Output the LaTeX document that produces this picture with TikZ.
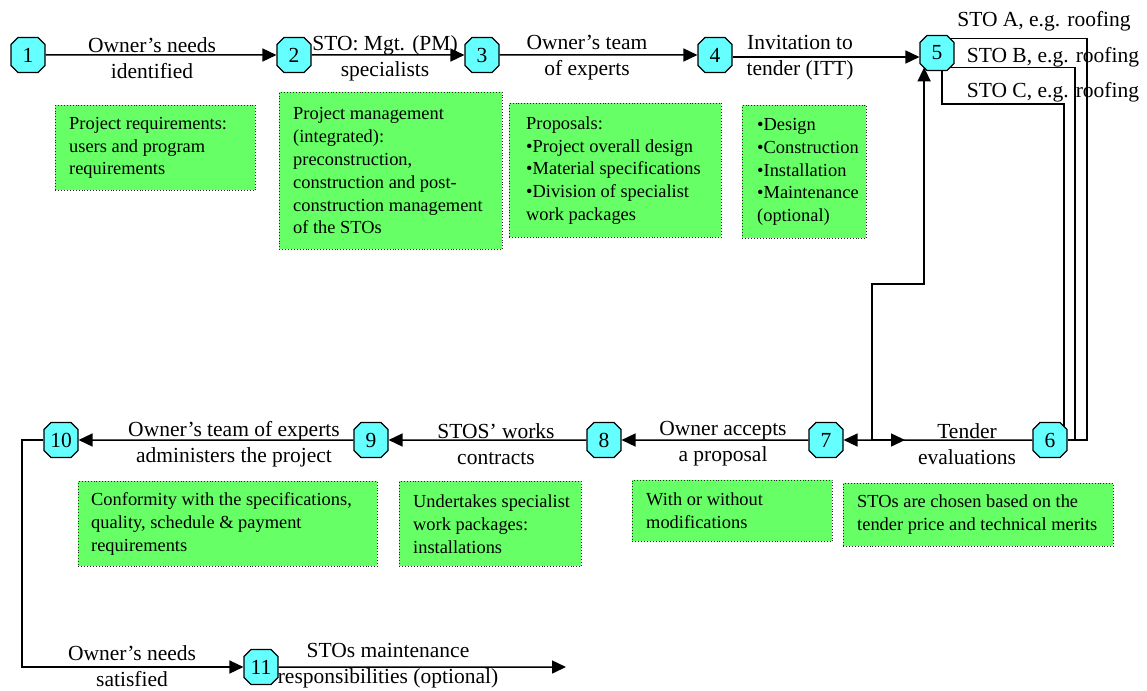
\documentclass[tikz,border=0pt]{standalone}
\usepackage{fontspec}
\setmainfont{Liberation Serif}
\usetikzlibrary{arrows.meta,shapes.misc,backgrounds}
\definecolor{stagecyan}{RGB}{102,255,255}
\definecolor{notegreen}{RGB}{102,255,102}
\tikzset{
  stage/.style={chamfered rectangle, chamfered rectangle xsep=3.5pt, chamfered rectangle ysep=3.5pt,
    draw, line width=1.1pt, fill=stagecyan, minimum width=34pt, minimum height=35pt,
    inner sep=0pt, font=\fontsize{21.5}{26}\selectfont},
  flow/.style={line width=1.5pt, -{Triangle[length=14pt,width=13pt]}},
  plain/.style={line width=1.5pt},
  lbl/.style={align=center, inner sep=0pt, font=\fontsize{21.5}{26}\selectfont},
  notebox/.style={draw=black!85, dotted, line width=0.9pt, fill=notegreen,
    anchor=north west, inner sep=0pt},
  notetext/.style={anchor=west, align=left, inner sep=0pt, font=\fontsize{18.4}{22.8}\selectfont},
}
\begin{document}
\begin{tikzpicture}[x=1pt,y=-1pt]
\useasboundingbox (0,0) rectangle (1147,690);

% numbered stages
\node[stage] (n1) at (28,55) {1};
\node[stage] (n2) at (294,55) {2};
\node[stage] (n3) at (482,55) {3};
\node[stage] (n4) at (715,55) {4};
\node[stage] (n5) at (937,53) {5};
\node[stage] (n6) at (1050,440) {6};
\node[stage] (n7) at (826,440) {7};
\node[stage] (n8) at (604,440) {8};
\node[stage] (n9) at (371,440) {9};
\node[stage] (n10) at (61,440) {10};
\node[stage] (n11) at (261,667) {11};

% connector labels
\node[lbl] (l1) at (152,58) {Owner’s needs\\identified};
\node[lbl] (l2) at (385,58) {STO: Mgt. (PM)\\specialists};
\node[lbl] (l3) at (587,58) {Owner’s team\\of experts};
\node[lbl] (l4) at (800,58) {Invitation to\\tender (ITT)};
\node[lbl] (sa) at (1044,21) {STO A, e.g. roofing};
\node[lbl] (sb) at (1053,57) {STO B, e.g. roofing};
\node[lbl] (sc) at (1053,92) {STO C, e.g. roofing};
\node[lbl] (l6) at (967,444) {Tender\\evaluations};
\node[lbl] (l7) at (723,444) {Owner accepts\\a proposal};
\node[lbl] (l8) at (496,444) {STOS’ works\\contracts};
\node[lbl] (l9) at (234,444) {Owner’s team of experts\\administers the project};
\node[lbl] (l10) at (132,666) {Owner’s needs\\satisfied};
\node[lbl] (l11) at (388,666) {STOs maintenance\\responsibilities (optional)};

% green notes
\node[notebox, minimum width=200pt, minimum height=85pt] (b1) at (55,105) {};
\node[notetext] (t1) at ([xshift=14pt]b1.west) {Project requirements:\\users and program\\requirements};
\node[notebox, minimum width=223pt, minimum height=157pt] (b2) at (279,92) {};
\node[notetext] (t2) at ([xshift=14pt]b2.west) {Project management\\(integrated):\\preconstruction,\\construction and post-\\construction management\\of the STOs};
\node[notebox, minimum width=212pt, minimum height=134pt] (b3) at (509,103) {};
\node[notetext] (t3) at ([xshift=17pt]b3.west) {Proposals:\\•Project overall design\\•Material specifications\\•Division of specialist\\work packages};
\node[notebox, minimum width=124pt, minimum height=133pt] (b4) at (742,105) {};
\node[notetext] (t4) at ([xshift=15pt]b4.west) {•Design\\•Construction\\•Installation\\•Maintenance\\(optional)};
\node[notebox, minimum width=299pt, minimum height=85pt] (b5) at (78,481) {};
\node[notetext] (t5) at ([xshift=13pt]b5.west) {Conformity with the specifications,\\quality, schedule \& payment\\requirements};
\node[notebox, minimum width=182pt, minimum height=85pt] (b6) at (399,481) {};
\node[notetext] (t6) at ([xshift=14pt]b6.west) {Undertakes specialist\\work packages:\\installations};
\node[notebox, minimum width=200pt, minimum height=61pt] (b7) at (632,480) {};
\node[notetext] (t7) at ([xshift=14pt]b7.west) {With or without\\modifications};
\node[notebox, minimum width=270pt, minimum height=63pt] (b8) at (843,483) {};
\node[notetext] (t8) at ([xshift=14pt]b8.west) {STOs are chosen based on the\\tender price and technical merits};

% routing points
\coordinate (a0) at ([xshift=-5pt]n5.north east);
\coordinate (aR) at (1087,440);
\coordinate (bR) at (1075,440);
\coordinate (c0) at ([xshift=5pt]n5.south);
\coordinate (cK) at (1064,104);
\coordinate (cR) at (1064,440);
\coordinate (j) at (872,440);
\coordinate (jr) at (905,440);
\coordinate (jb) at (872,284);
\coordinate (u5) at ([xshift=1pt]n5.south west);
\coordinate (k1) at (22,440);
\coordinate (fin) at (566,667);

\begin{scope}[on background layer]
  \draw[flow] (n1) -- (n2);
  \draw[flow] (n2) -- (n3);
  \draw[flow] (n3) -- (n4);
  \draw[flow] (n4.east |- 0,57) -- (n5.west |- 0,57);
  % specialist trade packages from the tender to the evaluation
  \draw[plain] (a0) -| (aR) -- (n6.east);
  \draw[plain] (n5.south east) -| (bR);
  \draw[plain] (c0) |- (cK) -- (cR);
  % evaluation and feedback
  \draw[flow] (n6) -- (n7);
  \draw[flow] (j) -- (jr);
  \draw[flow] (j) -- (jb) -| (u5);
  \draw[flow] (n7) -- (n8);
  \draw[flow] (n8) -- (n9);
  \draw[flow] (n9) -- (n10);
  \draw[flow] (n10.west) -- (k1) |- (n11.west);
  \draw[flow] (n11) -- (fin);
\end{scope}
\end{tikzpicture}
\end{document}
